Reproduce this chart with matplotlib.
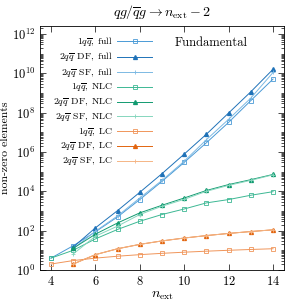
import numpy as np
import matplotlib
matplotlib.use("Agg")
import matplotlib.pyplot as plt

plt.rcParams['font.family'] = 'serif'
plt.rcParams['font.serif'] = ['cmr10']
plt.rcParams['mathtext.fontset'] = 'cm'
plt.rcParams['axes.formatter.use_mathtext'] = True
plt.rcParams['font.size'] = 9

n_1q = [4, 5, 6, 7, 8, 9, 10, 11, 12, 13, 14]
n_2q = [5, 6, 7, 8, 9, 10, 11, 12, 13, 14]

# full colour
full_1q = [4, 17, 87, 500, 3.8e3, 3.2e4, 2.95e5, 2.95e6, 3.2e7, 4.1e8, 5.1e9]
full_df = [14.5, 138, 1050, 8.9e3, 7.9e4, 7.8e5, 8.0e6, 9.6e7, 1.15e9, 1.6e10]
full_sf = [12, 93, 560, 4.6e3, 3.6e4, 3.4e5, 4.2e6, 4.6e7, 5.5e8, 1.1e10]
# next-to-leading colour
nlc_1q = [4, 10, 38, 115, 300, 660, 1260, 2570, 3800, 6300, 9550]
nlc_df = [12.6, 66, 246, 800, 1950, 4570, 1.1e4, 2.2e4, 3.9e4, 7.2e4]
nlc_sf = [6.5, 52, 170, 660, 1740, 3900, 1.0e4, 2.0e4, 3.6e4, 6.9e4]
# leading colour
lc_1q = [2, 3, 4, 5, 6, 7, 8, 9, 10, 11, 12]
lc_df = [2, 6, 12, 20, 30, 42, 56, 72, 90, 110]
lc_sf = [2, 6, 12, 20, 30, 42, 56, 72, 90, 110]

qq = r'q\overline{q}'
sp = r'\;'
gap = r'\enspace'
series = [
    (n_1q, full_1q, r'$1' + qq + r',' + sp + r'\mathrm{full}$', '#4a9ad6', 's'),
    (n_2q, full_df, r'$2' + qq + gap + r'\mathrm{DF,}' + sp + r'\mathrm{full}$', '#1f72b8', '^'),
    (n_2q, full_sf, r'$2' + qq + gap + r'\mathrm{SF,}' + sp + r'\mathrm{full}$', '#7cb9e3', '+'),
    (n_1q, nlc_1q, r'$1' + qq + r',' + sp + r'\mathrm{NLC}$', '#3db894', 's'),
    (n_2q, nlc_df, r'$2' + qq + gap + r'\mathrm{DF,}' + sp + r'\mathrm{NLC}$', '#119a70', '^'),
    (n_2q, nlc_sf, r'$2' + qq + gap + r'\mathrm{SF,}' + sp + r'\mathrm{NLC}$', '#86d6bd', '+'),
    (n_1q, lc_1q, r'$1' + qq + r',' + sp + r'\mathrm{LC}$', '#f0955a', 's'),
    (n_2q, lc_df, r'$2' + qq + gap + r'\mathrm{DF,}' + sp + r'\mathrm{LC}$', '#e2650f', '^'),
    (n_2q, lc_sf, r'$2' + qq + gap + r'\mathrm{SF,}' + sp + r'\mathrm{LC}$', '#f5b585', '+'),
]

fig = plt.figure(figsize=(2.87, 3.04), dpi=100)
ax = fig.add_axes([0.139, 0.112, 0.851, 0.802])

for x, y, lab, col, m in series:
    if m == 's':
        ax.plot(x, y, color=col, lw=0.7, marker=m, ms=3.5, mfc='none', mew=0.6, label=lab)
    elif m == '^':
        ax.plot(x, y, color=col, lw=0.7, marker=m, ms=2.8, label=lab)
    else:
        ax.plot(x, y, color=col, lw=0.7, marker=m, ms=3.5, mew=0.6, label=lab)

ax.set_yscale('log')
ax.set_xlim(3.5, 14.5)
ax.set_ylim(1, 2.5e12)
ax.set_xticks([4, 6, 8, 10, 12, 14])
ax.set_yticks([1e0, 1e2, 1e4, 1e6, 1e8, 1e10, 1e12])
ax.yaxis.set_minor_locator(matplotlib.ticker.LogLocator(base=10, subs=np.arange(1, 10), numticks=30))
ax.yaxis.set_minor_formatter(matplotlib.ticker.NullFormatter())
ax.tick_params(which='both', direction='in', top=True, right=True, width=0.5, labelsize=9)
ax.tick_params(which='major', length=4)
ax.tick_params(which='minor', length=2)
for s in ax.spines.values():
    s.set_linewidth(0.6)

ax.set_xlabel(r'$n_\mathrm{ext}$', fontsize=10, labelpad=1)
ax.set_ylabel('non-zero elements', fontsize=8.5, labelpad=1)
ax.set_title(r'$qg/\overline{q}g \to n_\mathrm{ext}-2$', fontsize=10, pad=7)
ax.text(0.7, 0.955, 'Fundamental', transform=ax.transAxes, ha='center', va='top', fontsize=9)

ax.legend(loc='upper left', bbox_to_anchor=(0.03, 0.985), frameon=False, markerfirst=False,
          fontsize=7, handlelength=3.6, labelspacing=0.2, borderaxespad=0.2, handletextpad=0.4)

fig.savefig('out.png', dpi=100)
